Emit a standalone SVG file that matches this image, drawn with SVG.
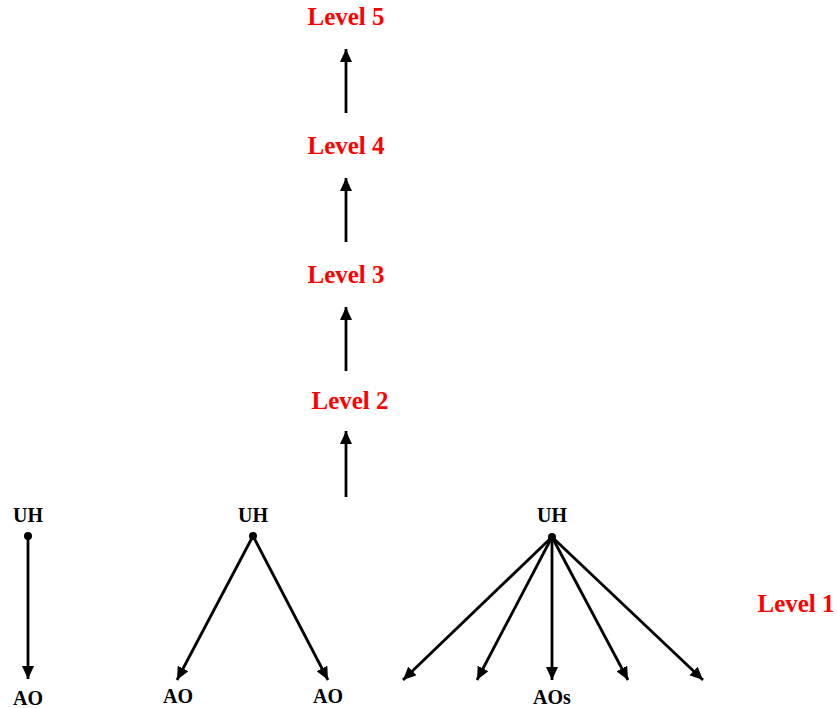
<svg xmlns="http://www.w3.org/2000/svg" width="837" height="708" viewBox="0 0 837 708">
<style>
.lvl{font-family:"Liberation Serif","Times New Roman",serif;font-weight:bold;font-size:25px;fill:#ff0000;text-anchor:middle}
.lbl{font-family:"Liberation Serif","Times New Roman",serif;font-weight:bold;font-size:20px;fill:#000;text-anchor:middle}
.c{stroke:#000;stroke-width:2.8;fill:none;marker-end:url(#ah)}
</style>
<defs>
<marker id="ah" markerUnits="userSpaceOnUse" markerWidth="14" markerHeight="12" refX="13" refY="6" orient="auto">
<path d="M0,0 L13,6 L0,12 Z" fill="#000"/>
</marker>
</defs>
<g id="level5"><text class="lvl" x="346" y="25">Level 5</text></g>
<g id="level4"><text class="lvl" x="346" y="154">Level 4</text></g>
<g id="level3"><text class="lvl" x="346" y="283">Level 3</text></g>
<g id="level2"><text class="lvl" x="350" y="409">Level 2</text></g>
<g id="level1"><text class="lvl" x="796" y="612">Level 1</text></g>
<g id="uh1"><text class="lbl" x="28" y="522">UH</text><circle cx="28" cy="536" r="4"/></g>
<g id="uh2"><text class="lbl" x="253" y="522">UH</text><circle cx="253" cy="536" r="4"/></g>
<g id="uh3"><text class="lbl" x="552" y="522">UH</text><circle cx="552" cy="537" r="4"/></g>
<g id="ao1"><text class="lbl" x="28" y="705">AO</text></g>
<g id="ao2"><text class="lbl" x="178" y="703">AO</text></g>
<g id="ao3"><text class="lbl" x="328" y="703">AO</text></g>
<g id="aos"><text class="lbl" x="552" y="704">AOs</text></g>
<g id="connectors">
<line class="c" x1="346" y1="113" x2="346" y2="49"/>
<line class="c" x1="346" y1="242" x2="346" y2="178"/>
<line class="c" x1="346" y1="371" x2="346" y2="307"/>
<line class="c" x1="346" y1="497" x2="346" y2="431"/>
<line class="c" x1="28" y1="536" x2="28" y2="679"/>
<line class="c" x1="253" y1="536" x2="177" y2="680"/>
<line class="c" x1="253" y1="536" x2="328" y2="680"/>
<line class="c" x1="552" y1="537" x2="403" y2="680"/>
<line class="c" x1="552" y1="537" x2="477" y2="680"/>
<line class="c" x1="552" y1="537" x2="552" y2="680"/>
<line class="c" x1="552" y1="537" x2="628" y2="680"/>
<line class="c" x1="552" y1="537" x2="703" y2="680"/>
</g>
</svg>
